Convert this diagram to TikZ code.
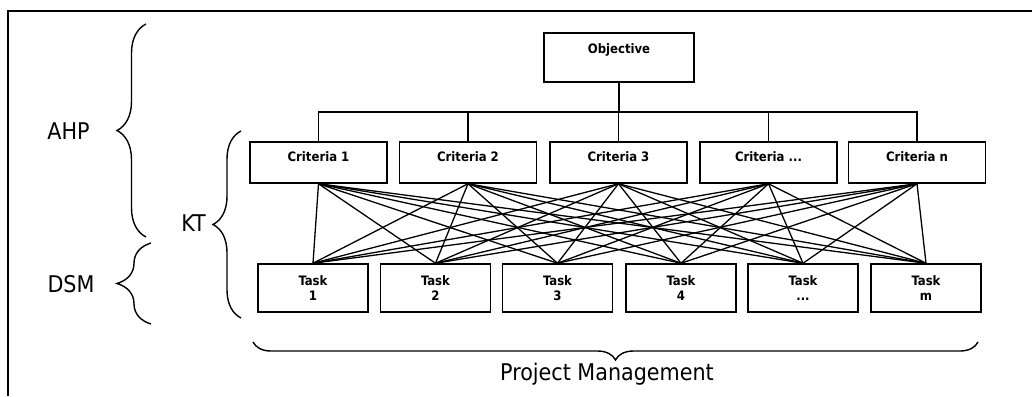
\documentclass[tikz,border=0pt]{standalone}
\usepackage{fontspec}
\setmainfont{DejaVu Sans Condensed}
\usetikzlibrary{decorations.pathreplacing}
\begin{document}
\begin{tikzpicture}[x=1pt,y=-1pt,line join=miter,
  boxline/.style={draw,line width=1.5pt},
  crit/.style={boxline,minimum width=137pt,minimum height=41pt,inner sep=0pt,
    font=\bfseries\fontsize{13}{14}\selectfont,text height=9.5pt,text depth=11pt},
  objbox/.style={boxline,minimum width=150pt,minimum height=49pt,inner sep=0pt,
    font=\bfseries\fontsize{13}{14}\selectfont,text height=9.5pt,text depth=17pt},
  taskbox/.style={boxline,minimum width=110pt,minimum height=48pt,inner sep=0pt,
    align=center,font=\bfseries\fontsize{13}{15}\selectfont},
  link/.style={line width=1.3pt},
  busline/.style={line width=1.4pt},
  bigbrace/.style={decorate,line width=1.4pt,decoration={brace,amplitude=#1}},
  biglabel/.style={font=\fontsize{23}{25}\selectfont}]
\useasboundingbox (0,0) rectangle (1032,396);
% frame
\draw[line width=1.4pt] (8,396) -- (8,11) -- (1032,11);
% objective
\node[objbox] (obj) at (619,57.5) {Objective};
% criteria
\node[crit] (c1) at (318.5,162.5) {Criteria 1};
\node[crit] (c2) at (468,162.5) {Criteria 2};
\node[crit] (c3) at (618.5,162.5) {Criteria 3};
\node[crit] (c4) at (768.5,162.5) {Criteria ...};
\node[crit] (c5) at (917,162.5) {Criteria n};
% tasks
\node[taskbox] (t1) at (313,288) {Task\\1};
\node[taskbox] (t2) at (435.5,288) {Task\\2};
\node[taskbox] (t3) at (557.5,288) {Task\\3};
\node[taskbox] (t4) at (681,288) {Task\\4};
\node[taskbox] (t5) at (803,288) {Task\\...};
\node[taskbox] (t6) at (926,288) {Task\\m};
% bus
\coordinate (bus) at (0,112);
\draw[busline] (c1.north) -- (c1.north |- bus) -- (c5.north |- bus) -- (c5.north);
\foreach \c in {c2,c3,c4} \draw[busline] (\c.north) -- (\c.north |- bus);
\draw[busline] (obj.south) -- (obj.south |- bus);
% full links
\foreach \c in {c1,c2,c3,c4,c5}
  \foreach \t in {t1,t2,t3,t4,t5,t6}
    \draw[link] (\c.south) -- (\t.north);
% braces
\coordinate (ahpB) at (146,237); \coordinate (ahpT) at (146,24);
\coordinate (ktB) at (241,318); \coordinate (ktT) at (241,131);
\coordinate (dsmB) at (151,324); \coordinate (dsmT) at (151,243);
\coordinate (pmR) at (978,342); \coordinate (pmL) at (253,342);
\draw[bigbrace=29pt] (ahpB) -- (ahpT);
\draw[bigbrace=28pt] (ktB) -- (ktT);
\draw[bigbrace=34pt] (dsmB) -- (dsmT);
\draw[bigbrace=18pt] (pmR) -- (pmL);
\node[biglabel] (ahp) at (68.5,131) {AHP};
\node[biglabel] (kt) at (193.5,223) {KT};
\node[biglabel] (dsm) at (71,284) {DSM};
\node[biglabel] (pm) at (607,374) {Project Management};
\end{tikzpicture}
\end{document}
